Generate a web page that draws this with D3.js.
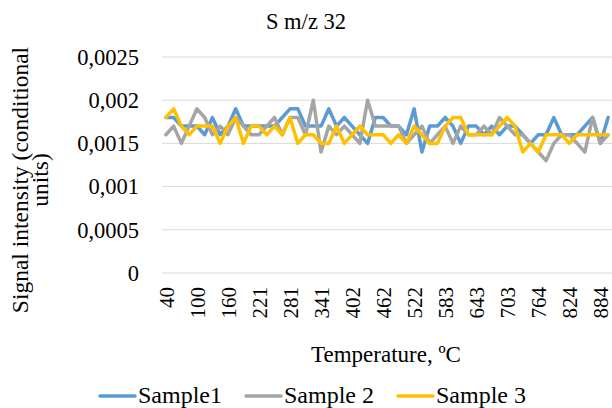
<!DOCTYPE html>
<html><head><meta charset="utf-8">
<script src="https://cdn.jsdelivr.net/npm/d3@7"></script>
<style>body{margin:0;background:#fff}svg{display:block}text{font-family:"Liberation Serif","Times New Roman",serif;fill:#000}</style>
</head><body><svg id="c" width="612" height="408"></svg>
<script>
const temperatures = ["40","55","70","85","100","115","130","145","160","175","190","206","221","236","251","266","281","296","311","326","341","356","371","386","402","417","432","447","462","477","492","507","522","537","552","568","583","598","613","628","643","658","673","688","703","718","733","749","764","779","794","809","824","839","854","869","884","899"];
const sample1 = [0.0018,0.0018,0.0017,0.0017,0.0017,0.0016,0.0018,0.0016,0.0017,0.0019,0.0017,0.0017,0.0017,0.0017,0.0017,0.0018,0.0019,0.0019,0.0017,0.0017,0.0017,0.0019,0.0017,0.0018,0.0017,0.0016,0.0015,0.0018,0.0018,0.0017,0.0017,0.0016,0.0019,0.0014,0.0017,0.0017,0.0018,0.0017,0.0015,0.0017,0.0017,0.0016,0.0017,0.0016,0.0017,0.0017,0.0016,0.0015,0.0016,0.0016,0.0018,0.0016,0.0016,0.0016,0.0017,0.0018,0.0015,0.0018];
const sample2 = [0.0016,0.0017,0.0015,0.0017,0.0019,0.0018,0.0016,0.0017,0.0016,0.0018,0.0017,0.0016,0.0016,0.0017,0.0018,0.0016,0.0018,0.0018,0.0016,0.0020,0.0014,0.0017,0.0016,0.0017,0.0016,0.0015,0.0020,0.0017,0.0017,0.0017,0.0017,0.0015,0.0016,0.0017,0.0015,0.0016,0.0017,0.0015,0.0017,0.0016,0.0016,0.0017,0.0016,0.0018,0.0017,0.0016,0.0016,0.0015,0.0014,0.0013,0.0015,0.0016,0.0016,0.0015,0.0014,0.0018,0.0015,0.0016];
const sample3 = [0.0018,0.0019,0.0017,0.0016,0.0017,0.0017,0.0017,0.0015,0.0017,0.0018,0.0015,0.0017,0.0017,0.0016,0.0017,0.0016,0.0018,0.0015,0.0016,0.0016,0.0015,0.0015,0.0017,0.0015,0.0016,0.0017,0.0016,0.0016,0.0016,0.0015,0.0016,0.0015,0.0017,0.0016,0.0015,0.0015,0.0017,0.0018,0.0018,0.0016,0.0016,0.0016,0.0016,0.0017,0.0018,0.0017,0.0014,0.0015,0.0014,0.0016,0.0016,0.0016,0.0015,0.0016,0.0016,0.0016,0.0016,0.0016];
const seriesNames = ["Sample1","Sample 2","Sample 3"];
const seriesColors = ["#5B9BD5","#A5A5A5","#FFC000"];
const yTicks = [0,0.0005,0.001,0.0015,0.002,0.0025];
const tickLabelEvery = 4;

const svg = d3.select("#c");
const L = 162, R = 612, T = 57, B = 273;
const x = d3.scalePoint().domain(temperatures).range([L, R]).padding(0.5);
const y = d3.scaleLinear().domain([0, 0.0025]).range([B, T]);
const fmt = v => v === 0 ? "0" : String(v).replace(".", ",");

svg.append("g").selectAll("line").data(yTicks).join("line")
  .attr("x1", L).attr("x2", R).attr("y1", d => y(d)).attr("y2", d => y(d))
  .attr("stroke", "#D9D9D9").attr("stroke-width", 1);

const yAxis = d3.axisLeft(y).tickValues(yTicks).tickFormat(fmt).tickSize(0).tickPadding(0);
const yg = svg.append("g").attr("transform", `translate(139,0)`).call(yAxis);
yg.select(".domain").remove();
yg.selectAll("text").attr("font-size", 22.5).attr("font-family", "Liberation Serif").attr("fill", "#000");

const xAxis = d3.axisBottom(x).tickValues(temperatures.filter((d, i) => i % tickLabelEvery === 0)).tickSize(0);
const xg = svg.append("g").attr("transform", `translate(0,${B})`).call(xAxis);
xg.select(".domain").remove();
xg.selectAll("text").attr("font-size", 21).attr("font-family", "Liberation Serif").attr("fill", "#000")
  .attr("transform", "rotate(-90)").attr("text-anchor", "end").attr("dy", "0.35em").attr("x", -14).attr("y", 0);

const line = d3.line().x((d, i) => x(temperatures[i])).y(d => y(d));
[sample1, sample2, sample3].forEach((s, k) => {
  svg.append("path").datum(s).attr("d", line).attr("fill", "none")
    .attr("stroke", seriesColors[k]).attr("stroke-width", 3.5).attr("stroke-linejoin", "round").attr("stroke-linecap", "round");
});

svg.append("text").attr("x", 306).attr("y", 29).attr("text-anchor", "middle").attr("font-size", 22.5).text("S m/z 32");

const yt = svg.append("text").attr("transform", "translate(28,180) rotate(-90)").attr("text-anchor", "middle").attr("font-size", 23.5);
yt.append("tspan").attr("x", 0).attr("dy", 0).text("Signal intensity (conditional");
yt.append("tspan").attr("x", 0).attr("dy", 20).text("units)");
svg.append("text").attr("x", 386).attr("y", 362).attr("text-anchor", "middle").attr("font-size", 23).text("Temperature, ºC");

const legX = [100, 246, 398];
seriesNames.forEach((n, k) => {
  svg.append("line").attr("x1", legX[k]).attr("x2", legX[k] + 35).attr("y1", 396).attr("y2", 396)
    .attr("stroke", seriesColors[k]).attr("stroke-width", 3.5).attr("stroke-linecap", "round");
  svg.append("text").attr("x", legX[k] + 38).attr("y", 403).attr("font-size", 24).text(n);
});
</script></body></html>
